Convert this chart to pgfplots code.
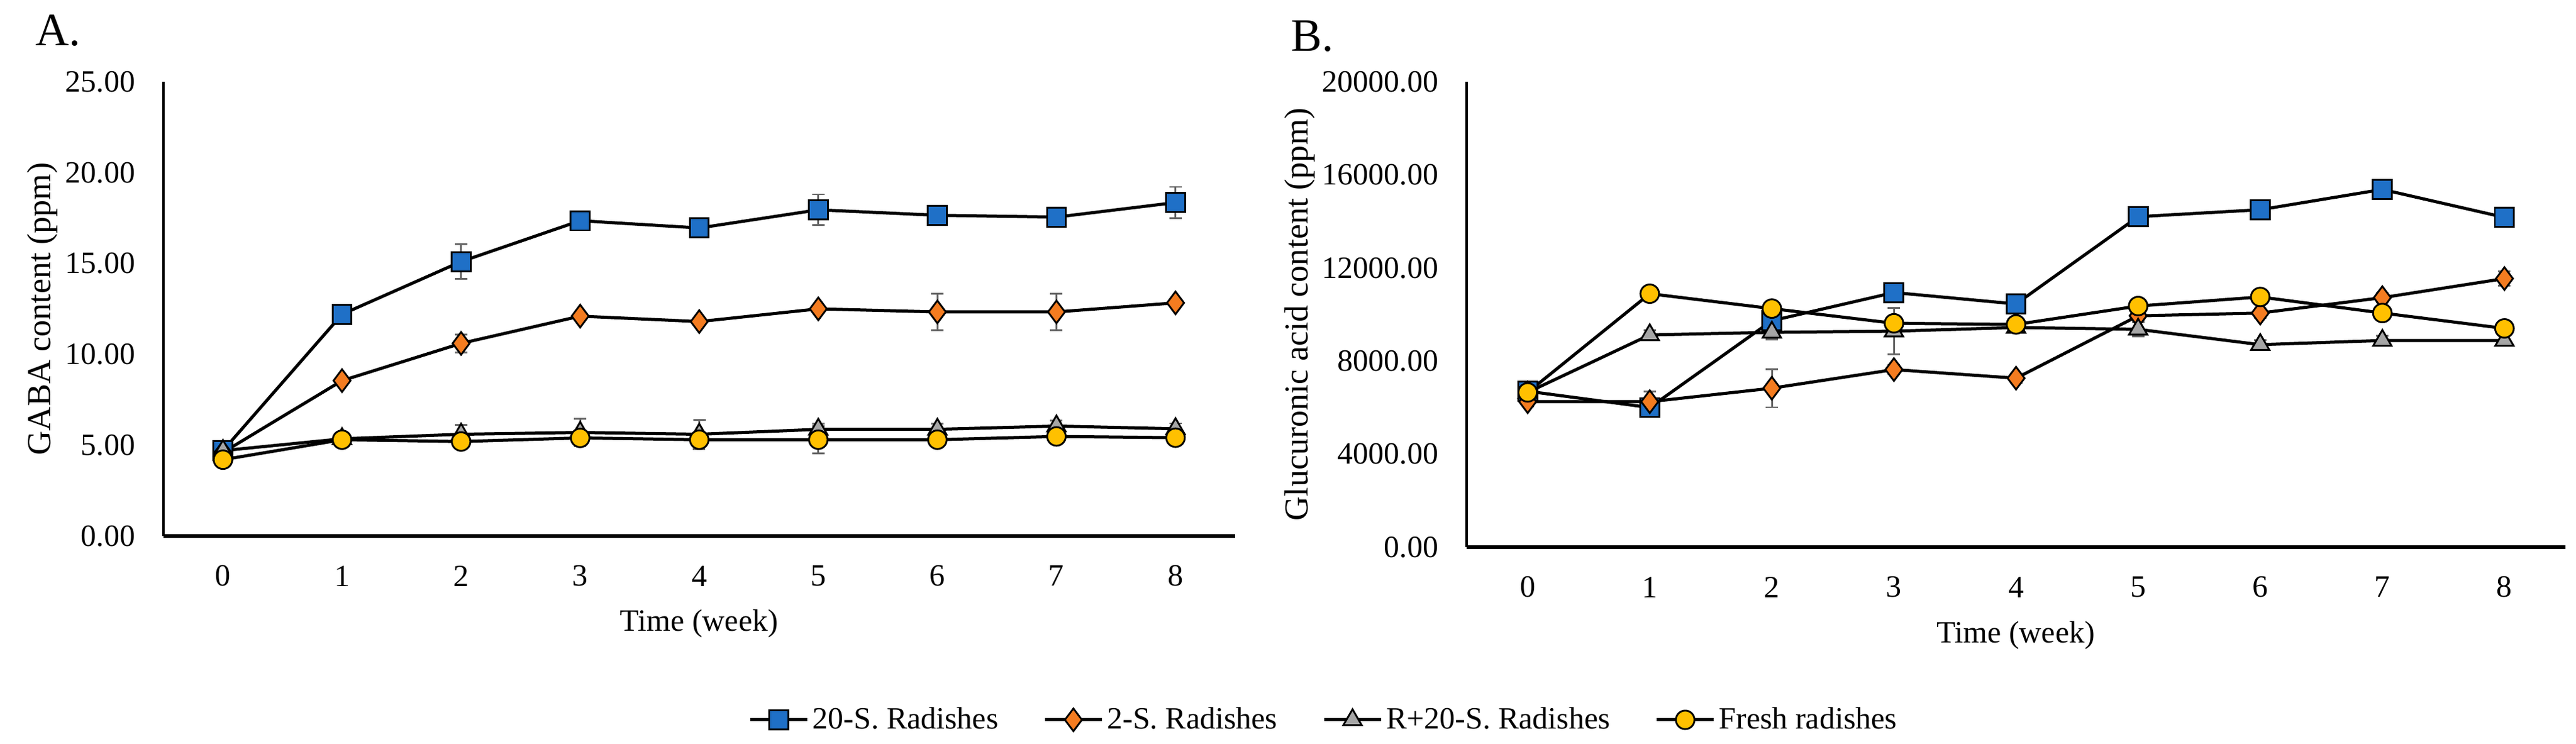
\documentclass[border=0pt]{standalone}
\usepackage{fontspec}
\setmainfont{Liberation Serif}
\usepackage{pgfplots}
\usepackage{pgfplotstable}
\pgfplotsset{compat=1.18}

\definecolor{sblue}{HTML}{1F70C7}
\definecolor{sorange}{HTML}{F47C20}
\definecolor{sgrey}{HTML}{A6A6A6}
\definecolor{syellow}{HTML}{FFC000}
\definecolor{errg}{HTML}{666666}

% week, 20-S, err, 2-S, err, R+20-S, err, fresh, err
\pgfplotstableread{
w  a     ea   b     eb   c    ec   d    ed
0  4.70  0.10 4.60  0.10 4.70 0.20 4.20 0.10
1  12.20 0.30 8.55  0.20 5.35 0.20 5.30 0.15
2  15.10 0.95 10.60 0.50 5.60 0.50 5.20 0.20
3  17.35 0.20 12.10 0.20 5.70 0.75 5.40 0.20
4  16.95 0.20 11.80 0.20 5.60 0.80 5.30 0.20
5  17.95 0.85 12.50 0.20 5.87 0.30 5.30 0.75
6  17.65 0.20 12.33 1.00 5.87 0.30 5.30 0.20
7  17.55 0.20 12.33 1.00 6.05 0.30 5.48 0.20
8  18.35 0.86 12.83 0.20 5.90 0.30 5.41 0.20
}\gaba

\pgfplotstableread{
w  a     ea  b     eb  c    ec   d     ed
0  6700  200 6250  200 6650 200  6650  200
1  6000  300 6250  450 9120 200  10890 200
2  9730  300 6830  820 9230 300  10250 200
3  10940 200 7630  200 9280 1000 9620  300
4  10450 200 7260  200 9440 200  9570  200
5  14200 200 9940  200 9360 300  10360 200
6  14500 200 10060 200 8700 200  10750 200
7  15370 200 10720 200 8880 200  10060 200
8  14170 200 11540 300 8880 200  9400  200
}\glucu

\pgfplotsset{
  radish/.style={
    scale only axis,
    xmin=-0.5, xmax=8.5, xtick={0,...,8}, ymin=0,
    axis x line=bottom, axis y line=left, axis line style={-},
    x axis line style={line width=1.4pt},
    y axis line style={line width=0.9pt},
    major tick length=0pt,
    scaled y ticks=false,
    /pgf/number format/assume math mode=true,
    tick label style={font=\fontsize{12}{14}\selectfont, inner sep=0pt},
    xticklabel style={anchor=center, yshift=-15.5pt},
    yticklabel style={anchor=east, xshift=-10.8pt,
      /pgf/number format/fixed, /pgf/number format/fixed zerofill,
      /pgf/number format/precision=2, /pgf/number format/1000 sep={}},
    ylabel style={font=\fontsize{13}{15}\selectfont},
    xlabel style={font=\fontsize{12}{14}\selectfont},
    xlabel={Time (week)},
    legend image code/.code={\draw[mark repeat=2, mark phase=2, #1]
      plot coordinates {(0pt,0pt) (11pt,0pt) (22pt,0pt)};},
  },
  ebar/.style={
    error bars/.cd, y dir=both, y explicit,
    error bar style={line width=0.7pt, draw=errg},
    error mark options={rotate=90, line width=0.7pt, draw=errg, mark size=2.4pt},
  },
  s20/.style={black, line width=1.2pt, mark=square*, mark size=3.7pt,
    mark options={solid, draw=black, fill=sblue, line width=0.7pt}},
  s2/.style={black, line width=1.2pt, mark=diamond*, mark size=4.4pt,
    mark options={solid, draw=black, fill=sorange, line width=0.7pt}},
  sr/.style={black, line width=1.2pt, mark=triangle*, mark size=4.1pt,
    mark options={solid, draw=black, fill=sgrey, line width=0.7pt}},
  sf/.style={black, line width=1.2pt, mark=*, mark size=3.6pt,
    mark options={solid, draw=black, fill=syellow, line width=0.7pt}},
}

\begin{document}
\begin{tikzpicture}
\path[use as bounding box] (0,0) rectangle (998.64pt,288.48pt);

\begin{axis}[radish,
  at={(63.36pt,80.64pt)}, anchor=south west,
  width=415.44pt, height=176.16pt,
  ymax=25, ytick={0,5,...,25},
  ylabel={GABA content (ppm)},
  ylabel style={at={(axis description cs:-0.1132,0.5)}, anchor=center},
  xlabel style={at={(axis description cs:0.5,-0.193)}, anchor=center},
  legend columns=4,
  legend style={at={(axis description cs:1.0838,-0.4046)}, anchor=center,
    draw=none, fill=none, font=\fontsize{12}{14}\selectfont,
    nodes={inner sep=1.5pt},
    /tikz/every even column/.append style={column sep=16pt}},
]
\addplot[s20, ebar] table[x=w, y=a, y error=ea] {\gaba};
\addplot[s2, ebar] table[x=w, y=b, y error=eb] {\gaba};
\addplot[sr, ebar] table[x=w, y=c, y error=ec] {\gaba};
\addplot[sf, ebar] table[x=w, y=d, y error=ed] {\gaba};
\legend{20-S. Radishes, 2-S. Radishes, R+20-S. Radishes, Fresh radishes}
\end{axis}

\begin{axis}[radish,
  at={(568.56pt,76.32pt)}, anchor=south west,
  width=426pt, height=180.48pt,
  ymax=20000, ytick={0,4000,...,20000},
  ylabel={Glucuronic acid content (ppm)},
  ylabel style={at={(axis description cs:-0.152,0.5)}, anchor=center},
  xlabel style={at={(axis description cs:0.5,-0.189)}, anchor=center},
]
\addplot[s20, ebar] table[x=w, y=a, y error=ea] {\glucu};
\addplot[s2, ebar] table[x=w, y=b, y error=eb] {\glucu};
\addplot[sr, ebar] table[x=w, y=c, y error=ec] {\glucu};
\addplot[sf, ebar] table[x=w, y=d, y error=ed] {\glucu};
\end{axis}

\node[anchor=base west, inner sep=0pt, font=\fontsize{18}{20}\selectfont] at (13.68pt,270.72pt) {A.};
\node[anchor=base west, inner sep=0pt, font=\fontsize{18}{20}\selectfont] at (500.4pt,268.56pt) {B.};
\end{tikzpicture}
\end{document}
